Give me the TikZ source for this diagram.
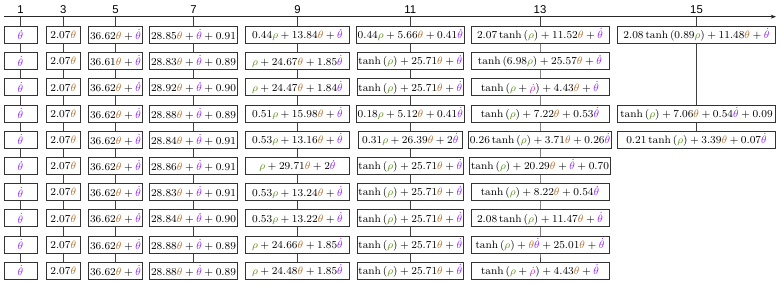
\documentclass[tikz,border=0pt]{standalone}
\usepackage{amsmath}
\usepackage{fontspec}
\newfontfamily\lblfont{Liberation Sans}
\usetikzlibrary{arrows.meta,backgrounds}
\definecolor{cth}{RGB}{180,110,45}
\definecolor{cthd}{RGB}{150,40,255}
\definecolor{crho}{RGB}{95,150,30}
\definecolor{crhod}{RGB}{205,50,205}
\newcommand{\cTh}{{\color{cth}\theta}}
\newcommand{\cTd}{{\color{cthd}\dot{\theta}}}
\newcommand{\cRh}{{\color{crho}\rho}}
\newcommand{\cRd}{{\color{crhod}\dot{\rho}}}
\newcommand{\thn}[1]{\tanh\left(#1\right)}
\tikzset{
  eqbox/.style={draw=black!80, fill=white, line width=0.6pt, minimum height=12.75pt,
    inner xsep=1pt, inner ysep=1pt, minimum width=#1, font=\footnotesize},
  eqbox/.default=20pt,
  collabel/.style={font=\lblfont\fontsize{8.5}{10}\selectfont, inner sep=0pt},
  conn/.style={draw=black!75, line width=0.5pt},
  axis/.style={draw=black!85, line width=0.6pt, -{Stealth[length=4pt,width=3pt]}}
}
\begin{document}
\begin{tikzpicture}[x=0.75pt,y=-0.75pt]
\useasboundingbox (0,0) rectangle (782,284);
% axis
\coordinate (axs) at (3.5,16.7);
\coordinate (axe) at (776,16.7);
\draw[axis] (axs) -- (axe);
% column x positions
\def\xa{20.5}\def\xb{63.3}\def\xc{115.5}\def\xd{193.5}
\def\xe{297.5}\def\xf{410.3}\def\xg{540}\def\xh{696.5}
% labels and tops
\foreach \n/\x/\l in {a/\xa/1,b/\xb/3,c/\xc/5,d/\xd/7,e/\xe/9,f/\xf/11,g/\xg/13,h/\xh/15}{
  \node[collabel] (lab\n) at (\x,10) {\l};
  \coordinate (top\n) at (\x,16.7);
}
% columns 1 and 3
\foreach \r/\y in {1/35,2/61.2,3/87.4,4/113.6,5/139.8,6/166,7/192.2,8/218.4,9/244.6,10/270.8}{
  \node[eqbox=24.75pt] (a\r) at (\xa,\y) {$\cTd$};
  \node[eqbox=25.5pt] (b\r) at (\xb,\y) {$2.07\cTh$};
}
% column 5
\node[eqbox=39pt] (c1) at (\xc,35) {$36.62\cTh+\cTd$};
\node[eqbox=39pt] (c2) at (\xc,61.2) {$36.61\cTh+\cTd$};
\foreach \r/\y in {3/87.4,4/113.6,5/139.8,6/166,7/192.2,8/218.4,9/244.6,10/270.8}{
  \node[eqbox=39pt] (c\r) at (\xc,\y) {$36.62\cTh+\cTd$};
}
% column 7
\foreach \r/\y/\p/\q in {1/35/28.85/0.91,2/61.2/28.83/0.89,3/87.4/28.92/0.90,4/113.6/28.88/0.89,
  5/139.8/28.84/0.91,6/166/28.86/0.91,7/192.2/28.83/0.91,8/218.4/28.84/0.90,9/244.6/28.88/0.89,10/270.8/28.88/0.89}{
  \node[eqbox=65.25pt] (d\r) at (\xd,\y) {$\p\cTh+\cTd+\q$};
}
% column 9
\node[eqbox=78pt] (e1) at (\xe,35) {$0.44\cRh+13.84\cTh+\cTd$};
\node[eqbox=78pt] (e2) at (\xe,61.2) {$\cRh+24.67\cTh+1.85\cTd$};
\node[eqbox=78pt] (e3) at (\xe,87.4) {$\cRh+24.47\cTh+1.84\cTd$};
\node[eqbox=78pt] (e4) at (\xe,113.6) {$0.51\cRh+15.98\cTh+\cTd$};
\node[eqbox=78pt] (e5) at (\xe,139.8) {$0.53\cRh+13.16\cTh+\cTd$};
\node[eqbox=78pt] (e6) at (\xe,166) {$\cRh+29.71\cTh+2\cTd$};
\node[eqbox=78pt] (e7) at (\xe,192.2) {$0.53\cRh+13.24\cTh+\cTd$};
\node[eqbox=78pt] (e8) at (\xe,218.4) {$0.53\cRh+13.22\cTh+\cTd$};
\node[eqbox=78pt] (e9) at (\xe,244.6) {$\cRh+24.66\cTh+1.85\cTd$};
\node[eqbox=78pt] (e10) at (\xe,270.8) {$\cRh+24.48\cTh+1.85\cTd$};
% column 11
\node[eqbox=78pt] (f1) at (\xf,35) {$0.44\cRh+5.66\cTh+0.41\cTd$};
\node[eqbox=78pt] (f2) at (\xf,61.2) {$\thn{\cRh}+25.71\cTh+\cTd$};
\node[eqbox=78pt] (f3) at (\xf,87.4) {$\thn{\cRh}+25.71\cTh+\cTd$};
\node[eqbox=78pt] (f4) at (\xf,113.6) {$0.18\cRh+5.12\cTh+0.41\cTd$};
\node[eqbox=78pt] (f5) at (\xf,139.8) {$0.31\cRh+26.39\cTh+2\cTd$};
\foreach \r/\y in {6/166,7/192.2,8/218.4,9/244.6,10/270.8}{
  \node[eqbox=78pt] (f\r) at (\xf,\y) {$\thn{\cRh}+25.71\cTh+\cTd$};
}
% column 13
\node[eqbox=103.5pt] (g1) at (\xg,35) {$2.07\thn{\cRh}+11.52\cTh+\cTd$};
\node[eqbox=103.5pt] (g2) at (\xg,61.2) {$\thn{6.98\cRh}+25.57\cTh+\cTd$};
\node[eqbox=103.5pt] (g3) at (\xg,87.4) {$\thn{\cRh+\cRd}+4.43\cTh+\cTd$};
\node[eqbox=103.5pt] (g4) at (\xg,113.6) {$\thn{\cRh}+7.22\cTh+0.53\cTd$};
\node[eqbox=103.5pt] (g5) at (\xg,139.8) {$0.26\thn{\cRh}+3.71\cTh+0.26\cTd$};
\node[eqbox=103.5pt] (g6) at (\xg,166) {$\thn{\cRh}+20.29\cTh+\cTd+0.70$};
\node[eqbox=103.5pt] (g7) at (\xg,192.2) {$\thn{\cRh}+8.22\cTh+0.54\cTd$};
\node[eqbox=103.5pt] (g8) at (\xg,218.4) {$2.08\thn{\cRh}+11.47\cTh+\cTd$};
\node[eqbox=103.5pt] (g9) at (\xg,244.6) {$\thn{\cRh}+\cTh\cTd+25.01\cTh+\cTd$};
\node[eqbox=103.5pt] (g10) at (\xg,270.8) {$\thn{\cRh+\cRd}+4.43\cTh+\cTd$};
% column 15
\node[eqbox=118.5pt] (h1) at (\xh,35) {$2.08\thn{0.89\cRh}+11.48\cTh+\cTd$};
\node[eqbox=118.5pt] (h4) at (\xh,113.6) {$\thn{\cRh}+7.06\cTh+0.54\cTd+0.09$};
\node[eqbox=118.5pt] (h5) at (\xh,139.8) {$0.21\thn{\cRh}+3.39\cTh+0.07\cTd$};
% connectors
\begin{pgfonlayer}{background}
\foreach \c in {a,b,c,d,e,f,g}{
  \draw[conn] (top\c) -- (\c1.center) -- (\c2.center) -- (\c3.center) -- (\c4.center) -- (\c5.center)
    -- (\c6.center) -- (\c7.center) -- (\c8.center) -- (\c9.center) -- (\c10.center);
}
\draw[conn] (toph) -- (h1.center) -- (h4.center) -- (h5.center);
\end{pgfonlayer}
\end{tikzpicture}
\end{document}
